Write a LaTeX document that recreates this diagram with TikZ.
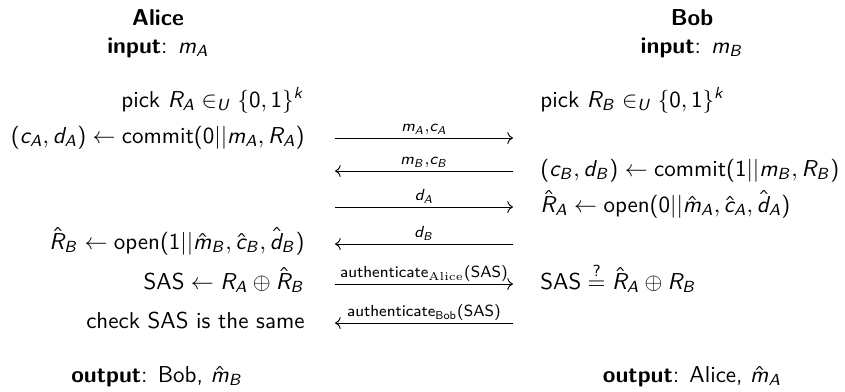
\documentclass[tikz,border=0pt]{standalone}
\usepackage{amsmath}
\usetikzlibrary{arrows.meta,calc}
\renewcommand{\familydefault}{\sfdefault}
% sans-serif math: upright digits and brackets, slanted sans letters
\SetSymbolFont{operators}{normal}{OT1}{cmss}{m}{n}
\DeclareSymbolFont{sfletters}{OT1}{cmss}{m}{it}
\DeclareMathAlphabet{\mathserif}{OT1}{cmr}{m}{n}
\newcount\lettercode
\lettercode=65
\loop
  \mathcode\lettercode=\numexpr "7000+\symsfletters*"100+\lettercode\relax
  \advance\lettercode by 1
\ifnum\lettercode<91 \repeat
\lettercode=97
\loop
  \mathcode\lettercode=\numexpr "7000+\symsfletters*"100+\lettercode\relax
  \advance\lettercode by 1
\ifnum\lettercode<123 \repeat

\tikzset{
  lefttxt/.style={anchor=base east, inner sep=0pt},
  righttxt/.style={anchor=base west, inner sep=0pt},
  headtxt/.style={anchor=base, inner sep=0pt},
  msgline/.style={line width=0.4pt, -{Computer Modern Rightarrow}},
  msglabel/.style={anchor=base, inner sep=0pt},
}

\begin{document}
\begin{tikzpicture}[x=0.435pt, y=-0.435pt]
\useasboundingbox (0,0) rectangle (845,391);

% parties and inputs
\node[headtxt] (alice) at (158,25) {\textbf{Alice}};
\node[headtxt] (ainput) at (158,53) {\textbf{input}: $m_A$};
\node[headtxt] (bob) at (692,25) {\textbf{Bob}};
\node[headtxt] (binput) at (692,53) {\textbf{input}: $m_B$};

% Alice's steps
\node[lefttxt] (apick) at (305,107) {pick $R_A \in_U \{0,1\}^k$};
\node[lefttxt] (acommit) at (305,143.5) {$(c_A,d_A) \leftarrow \text{commit}(0||m_A,R_A)$};
\node[lefttxt] (aopen) at (305,249.5) {$\hat{R}_B \leftarrow \text{open}(1||\hat{m}_B,\hat{c}_B,\hat{d}_B)$};
\node[lefttxt] (asas) at (305,289.5) {$\text{SAS} \leftarrow R_A \oplus \hat{R}_B$};
\node[lefttxt] (acheck) at (305,328.5) {check SAS is the same};

% Bob's steps
\node[righttxt] (bpick) at (540,107) {pick $R_B \in_U \{0,1\}^k$};
\node[righttxt] (bcommit) at (540,176.5) {$(c_B,d_B) \leftarrow \text{commit}(1||m_B,R_B)$};
\node[righttxt] (bopen) at (540,212.5) {$\hat{R}_A \leftarrow \text{open}(0||\hat{m}_A,\hat{c}_A,\hat{d}_A)$};
\node[righttxt] (bsas) at (540,289.5) {$\text{SAS} \stackrel{?}{=} \hat{R}_A \oplus R_B$};

% outputs
\node[headtxt] (aout) at (157,382) {\textbf{output}: Bob, $\hat{m}_B$};
\node[headtxt] (bout) at (692,382) {\textbf{output}: Alice, $\hat{m}_A$};

% message ends
\foreach \i/\y in {1/138,2/171,3/207,4/244,5/284,6/323}{
  \coordinate (l\i) at (335,\y);
  \coordinate (r\i) at (513,\y);
}

% messages
\draw[msgline] (l1) -- (r1);
\node[msglabel] (m1) at ([yshift=2.7pt]$(l1)!0.5!(r1)$) {$\scriptstyle m_A,c_A$};
\draw[msgline] (r2) -- (l2);
\node[msglabel] (m2) at ([yshift=2.7pt]$(l2)!0.5!(r2)$) {$\scriptstyle m_B,c_B$};
\draw[msgline] (l3) -- (r3);
\node[msglabel] (m3) at ([yshift=2.7pt]$(l3)!0.5!(r3)$) {$\scriptstyle d_A$};
\draw[msgline] (r4) -- (l4);
\node[msglabel] (m4) at ([yshift=2.7pt]$(l4)!0.5!(r4)$) {$\scriptstyle d_B$};
\draw[msgline] (l5) -- (r5);
\node[msglabel] (m5) at ([yshift=2.7pt]$(l5)!0.5!(r5)$) {$\scriptstyle \text{authenticate}_{\mathserif{Alice}}(\text{SAS})$};
\draw[msgline] (r6) -- (l6);
\node[msglabel] (m6) at ([yshift=2.7pt]$(l6)!0.5!(r6)$) {$\scriptstyle \text{authenticate}_{\mathrm{Bob}}(\text{SAS})$};
\end{tikzpicture}
\end{document}
